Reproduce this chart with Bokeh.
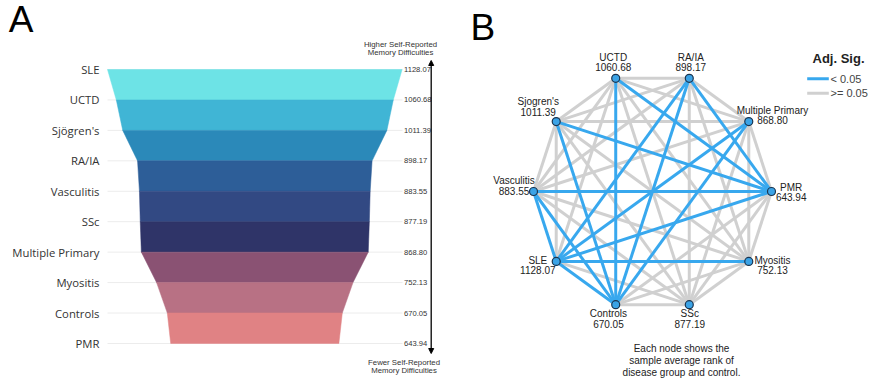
import numpy as np
from bokeh.plotting import figure
from bokeh.layouts import row
from bokeh.models import Range1d, Arrow, NormalHead
from bokeh.core.properties import value
from bokeh.embed import file_html
from bokeh.resources import INLINE

# ---------------- Panel A data ----------------
funnel_groups = ["SLE", "UCTD", "Sjögren's", "RA/IA", "Vasculitis", "SSc",
                 "Multiple Primary", "Myositis", "Controls", "PMR"]
funnel_values = [1128.07, 1060.68, 1011.39, 898.17, 883.55, 877.19,
                 868.80, 752.13, 670.05, 643.94]
band_colors = ["#6de3e6", "#40b5d5", "#2b89b9", "#2d5e98", "#324983",
               "#2f3468", "#8a5273", "#b87184", "#e08284"]

# ---------------- Panel B data ----------------
net_groups = ["PMR", "Multiple Primary", "RA/IA", "UCTD", "Sjogren's",
              "Vasculitis", "SLE", "Controls", "SSc", "Myositis"]
net_ranks = [643.94, 868.80, 898.17, 1060.68, 1011.39,
             883.55, 1128.07, 670.05, 877.19, 752.13]
sig_pairs = [("UCTD", "Controls"), ("UCTD", "PMR"),
             ("Sjogren's", "Controls"), ("Sjogren's", "PMR"),
             ("RA/IA", "PMR"), ("RA/IA", "SLE"), ("RA/IA", "Controls"),
             ("Multiple Primary", "SLE"), ("Multiple Primary", "Controls"),
             ("Vasculitis", "PMR"), ("Vasculitis", "SLE"), ("Vasculitis", "Controls"),
             ("SLE", "PMR"), ("SLE", "Myositis"), ("SLE", "Controls")]
legend_labels = ["< 0.05", ">= 0.05"]

H = 381
FONT = value("Liberation Sans")

# ================= Panel A: funnel =================
W1 = 460
cx, row0, row_h = 254.3, 69.0, 30.44          # pixel layout of the funnel
s = 147.3 / max(funnel_values)                 # px per unit of rank


def ax(px):
    return (px - cx) / s


def ay(py):
    return (py - row0) / row_h


p1 = figure(width=W1, height=H, output_backend="svg", toolbar_location=None,
            x_range=Range1d(ax(0), ax(W1)), y_range=Range1d(ay(H), ay(0)),
            min_border=0, outline_line_color=None, background_fill_color="white")
p1.axis.visible = False
p1.grid.visible = False

n = len(funnel_values)
rows = list(range(n))
vmax = max(funnel_values)

# light guide lines at each group
p1.segment(x0=[-vmax] * n, y0=rows, x1=[ax(402)] * n, y1=rows,
           line_color="#ececec", line_width=1)

xs, ys = [], []
for i in range(n - 1):
    a, b = funnel_values[i], funnel_values[i + 1]
    xs.append([-a, a, b, -b])
    ys.append([i, i, i + 1, i + 1])
p1.patches(xs=xs, ys=ys, fill_color=band_colors, line_color=band_colors, line_width=0.5)

p1.text(x=[ax(99)] * n, y=rows, text=funnel_groups, text_font=value("Open Sans"),
        text_font_size="11.3px", text_color="#333333", text_align="right",
        text_baseline="middle")
p1.text(x=[ax(403.5)] * n, y=rows, text=[f"{v:.2f}" for v in funnel_values],
        text_font=FONT, text_font_size="7.6px", text_color="#333333",
        text_align="left", text_baseline="middle")

p1.add_layout(Arrow(x_start=ax(430.7), y_start=ay(353), x_end=ax(430.7), y_end=ay(60),
                    line_color="black", line_width=1.3,
                    start=NormalHead(size=5, fill_color="black", line_color="black"),
                    end=NormalHead(size=5, fill_color="black", line_color="black")))
p1.text(x=[ax(400)] * 2, y=[ay(43.7), ay(51.7)],
        text=["Higher Self-Reported", "Memory Difficulties"], text_font=FONT,
        text_font_size="7.8px", text_color="#333333", text_align="center",
        text_baseline="middle")
p1.text(x=[ax(403.5)] * 2, y=[ay(361.7), ay(370)],
        text=["Fewer Self-Reported", "Memory Difficulties"], text_font=FONT,
        text_font_size="7.8px", text_color="#333333", text_align="center",
        text_baseline="middle")
p1.text(x=[ax(8.3)], y=[ay(19)], text=["A"], text_font=FONT, text_font_size="37px",
        text_color="black", text_align="left", text_baseline="middle")

# ================= Panel B: network =================
W2 = 413
ccx, ccy = 192.0, 191.0   # circle centre in panel pixels
R = 119.0
p2 = figure(width=W2, height=H, output_backend="svg", toolbar_location=None,
            x_range=Range1d(-ccx, W2 - ccx), y_range=Range1d(-(H - ccy), ccy),
            min_border=0, outline_line_color=None, background_fill_color="white")
p2.axis.visible = False
p2.grid.visible = False

m = len(net_groups)
ang = np.deg2rad(np.arange(m) * 360.0 / m)
nx = R * np.cos(ang)
ny = R * np.sin(ang)
sig = set(frozenset(pq) for pq in sig_pairs)

gx0, gy0, gx1, gy1 = [], [], [], []
bx0, by0, bx1, by1 = [], [], [], []
for i in range(m):
    for j in range(i + 1, m):
        if frozenset((net_groups[i], net_groups[j])) in sig:
            bx0.append(nx[i]); by0.append(ny[i]); bx1.append(nx[j]); by1.append(ny[j])
        else:
            gx0.append(nx[i]); gy0.append(ny[i]); gx1.append(nx[j]); gy1.append(ny[j])
p2.segment(x0=gx0, y0=gy0, x1=gx1, y1=gy1, line_color="#d0d0d0", line_width=3)
p2.segment(x0=bx0, y0=by0, x1=bx1, y1=by1, line_color="#38a8ee", line_width=3)
p2.scatter(x=nx, y=ny, size=8, fill_color="#3ba3e6", line_color="#1b3550", line_width=1.2)

# label offsets (px, y downward): dx, dy_name, dy_value
offs = {"PMR": (19.7, -3.6, 5.4), "Multiple Primary": (23.7, -11, -1.7),
        "RA/IA": (1.5, -20.4, -11), "UCTD": (-2.5, -20.4, -11),
        "Sjogren's": (-18, -20, -9.5), "Vasculitis": (-19.5, -10.6, -0.6),
        "SLE": (-18.4, -1.3, 8.4), "Controls": (-7.3, 9.3, 19),
        "SSc": (0.5, 9.3, 19), "Myositis": (23.7, -1.3, 8.4)}
lx, ly, lt = [], [], []
for k, g in enumerate(net_groups):
    dx, d1, d2 = offs[g]
    lx += [nx[k] + dx, nx[k] + dx]
    ly += [ny[k] - d1, ny[k] - d2]
    lt += [g, f"{net_ranks[k]:.2f}"]
p2.text(x=lx, y=ly, text=lt, text_font=FONT, text_font_size="10px",
        text_color="#222222", text_align="center", text_baseline="middle")

# legend
p2.text(x=[186], y=[133.3], text=["Adj. Sig."], text_font=FONT, text_font_size="13px",
        text_font_style="bold", text_color="#222222", text_align="center",
        text_baseline="middle")
p2.segment(x0=[154.7, 154.7], y0=[112.7, 98.3], x1=[176.3, 176.3], y1=[112.7, 98.3],
           line_color=["#38a8ee", "#d0d0d0"], line_width=3)
p2.text(x=[178, 178], y=[112.7, 98.3], text=legend_labels, text_font=FONT,
        text_font_size="11px", text_color="#444444", text_align="left",
        text_baseline="middle")

# caption
p2.text(x=[29] * 3, y=[-156.7, -169.0, -181.4],
        text=["Each node shows the", "sample average rank of", "disease group and control."],
        text_font=FONT, text_font_size="10px", text_color="#222222",
        text_align="center", text_baseline="middle")
p2.text(x=[-182], y=[191 - 26.5], text=["B"], text_font=FONT, text_font_size="37px",
        text_color="black", text_align="left", text_baseline="middle")

layout = row(p1, p2)
open("out.html", "w").write(file_html(layout, INLINE))
